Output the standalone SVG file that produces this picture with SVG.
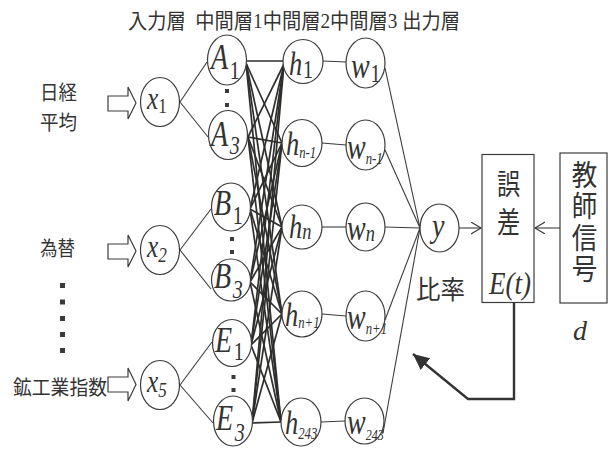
<svg xmlns="http://www.w3.org/2000/svg" width="608" height="452" viewBox="0 0 608 452">
  <style>
    .node { fill: #ffffff; stroke: #3c3c3c; stroke-width: 1.2; }
    .thin { stroke: #3c3c3c; stroke-width: 1.1; fill: none; }
    .mesh { stroke: #2e2e2c; stroke-width: 1.7; fill: none; }
    .blk { fill: #ffffff; stroke: #3c3c3c; stroke-width: 1.2; }
    .dot { fill: #3a3a36; }
    .jp { font-family: "Noto Sans CJK JP", "Noto Sans CJK SC", sans-serif; fill: #333333; }
    .vert { writing-mode: vertical-rl; text-orientation: upright; }
    .hd { font-family: "Liberation Serif", "Noto Sans CJK JP", serif; font-size: 21px; fill: #333333; white-space: pre; }
    .v { font-family: "Liberation Serif", serif; font-style: italic; fill: #333333; }
    .up { font-style: normal; }
  </style>
  <defs>
    <marker id="open" markerUnits="userSpaceOnUse" markerWidth="14" markerHeight="14" refX="10" refY="6" orient="auto">
      <path d="M0,0 L10,6 L0,12" fill="none" stroke="#3c3c3c" stroke-width="1.2"/>
    </marker>
    <marker id="solid" markerUnits="userSpaceOnUse" markerWidth="20" markerHeight="18" refX="16" refY="7.5" orient="auto">
      <path d="M0,0 L16,7.5 L0,15 z" fill="#333333"/>
    </marker>
  </defs>

  <!-- layer headings -->
  <g id="headings">
    <text class="hd" x="128" y="28" textLength="332" lengthAdjust="spacingAndGlyphs" xml:space="preserve">入力層  中間層1中間層2中間層3 出力層</text>
  </g>

  <!-- input names -->
  <g id="inputs">
    <text class="jp" font-size="20" x="40" y="100" textLength="37" lengthAdjust="spacingAndGlyphs">日経</text>
    <text class="jp" font-size="20" x="40" y="130" textLength="37" lengthAdjust="spacingAndGlyphs">平均</text>
    <text class="jp" font-size="20" x="40" y="256" textLength="35" lengthAdjust="spacingAndGlyphs">為替</text>
    <text class="jp" font-size="20" x="13" y="395" textLength="94" lengthAdjust="spacingAndGlyphs">鉱工業指数</text>
    <rect class="dot" x="60" y="283" width="5" height="5"/>
    <rect class="dot" x="60" y="299.5" width="5" height="5"/>
    <rect class="dot" x="60" y="316" width="5" height="5"/>
    <rect class="dot" x="60" y="332" width="5" height="5"/>
    <rect class="dot" x="60" y="348" width="5" height="5"/>
    <polygon class="blk" points="108,96 128,96 128,87 136,103 128,119 128,111 108,111"/>
    <polygon class="blk" points="108,244 128,244 128,235 136,251 128,267 128,259 108,259"/>
    <polygon class="blk" points="108,377 128,377 128,368 136,384.5 128,401 128,392 108,392"/>
  </g>

  <!-- connectors -->
  <g id="connectors">
    <!-- inputs to first hidden layer -->
    <line class="thin" x1="180" y1="102" x2="207" y2="62"/>
    <line class="thin" x1="180" y1="102" x2="208" y2="137"/>
    <line class="thin" x1="180" y1="250" x2="211" y2="209"/>
    <line class="thin" x1="180" y1="250" x2="211" y2="289"/>
    <line class="thin" x1="180" y1="385" x2="212" y2="342"/>
    <line class="thin" x1="180" y1="385" x2="213" y2="423"/>

    <!-- first hidden layer to second hidden layer (fully connected) -->
    <g class="mesh">
      <line x1="247" y1="61" x2="283" y2="61"/>
      <line x1="246" y1="63" x2="282" y2="143"/>
      <line x1="246" y1="63" x2="282" y2="227"/>
      <line x1="246" y1="63" x2="282" y2="314"/>
      <line x1="246" y1="63" x2="281" y2="422"/>
      <line x1="248" y1="137" x2="284" y2="64"/>
      <line x1="248" y1="137" x2="282" y2="143"/>
      <line x1="248" y1="137" x2="282" y2="227"/>
      <line x1="248" y1="137" x2="282" y2="314"/>
      <line x1="248" y1="137" x2="281" y2="422"/>
      <line x1="250" y1="209" x2="284" y2="64"/>
      <line x1="250" y1="209" x2="282" y2="143"/>
      <line x1="250" y1="209" x2="282" y2="227"/>
      <line x1="250" y1="209" x2="282" y2="314"/>
      <line x1="250" y1="209" x2="281" y2="422"/>
      <line x1="250" y1="282" x2="284" y2="64"/>
      <line x1="250" y1="282" x2="282" y2="143"/>
      <line x1="250" y1="282" x2="282" y2="227"/>
      <line x1="250" y1="282" x2="282" y2="314"/>
      <line x1="250" y1="282" x2="281" y2="422"/>
      <line x1="251" y1="345" x2="284" y2="64"/>
      <line x1="251" y1="345" x2="282" y2="143"/>
      <line x1="251" y1="345" x2="282" y2="227"/>
      <line x1="251" y1="345" x2="282" y2="314"/>
      <line x1="251" y1="345" x2="281" y2="422"/>
      <line x1="252" y1="423" x2="284" y2="64"/>
      <line x1="252" y1="423" x2="282" y2="143"/>
      <line x1="252" y1="423" x2="282" y2="227"/>
      <line x1="252" y1="423" x2="282" y2="314"/>
      <line x1="252" y1="423" x2="281" y2="422"/>
    </g>

    <!-- second hidden layer to third hidden layer -->
    <line class="thin" x1="323" y1="61" x2="346" y2="62"/>
    <line class="thin" x1="322" y1="143" x2="346" y2="145"/>
    <line class="thin" x1="322" y1="227" x2="346" y2="227"/>
    <line class="thin" x1="322" y1="314" x2="346" y2="316"/>
    <line class="thin" x1="321" y1="422" x2="345" y2="421"/>

    <!-- third hidden layer to output -->
    <line class="thin" x1="385" y1="68" x2="420" y2="228"/>
    <line class="thin" x1="385" y1="150" x2="420" y2="228"/>
    <line class="thin" x1="385" y1="227" x2="420" y2="228"/>
    <line class="thin" x1="385" y1="320" x2="420" y2="228"/>
    <line class="thin" x1="383" y1="433" x2="420" y2="228"/>

    <!-- output to error, teacher signal to error -->
    <line class="thin" x1="459" y1="228" x2="481" y2="228" marker-end="url(#open)"/>
    <line class="thin" x1="560" y1="228" x2="535" y2="228" marker-end="url(#open)"/>

    <!-- error feedback -->
    <polyline points="514,303 514,399 468,399 413,354" fill="none" stroke="#333333" stroke-width="2.4" stroke-linejoin="miter" marker-end="url(#solid)"/>
  </g>

  <!-- input layer -->
  <g id="x1">
    <ellipse class="node" cx="160" cy="102" rx="19.5" ry="24.5"/>
    <text class="v" font-size="31" transform="translate(147,109) scale(0.82,1)">x<tspan class="up" font-size="21" dy="4">1</tspan></text>
  </g>
  <g id="x2">
    <ellipse class="node" cx="160" cy="250" rx="19.5" ry="24.5"/>
    <text class="v" font-size="31" transform="translate(147,257) scale(0.82,1)">x<tspan font-size="21" dy="5">2</tspan></text>
  </g>
  <g id="x5">
    <ellipse class="node" cx="160" cy="385" rx="19.5" ry="24.5"/>
    <text class="v" font-size="31" transform="translate(147,392) scale(0.82,1)">x<tspan font-size="21" dy="5">5</tspan></text>
  </g>

  <!-- first hidden layer -->
  <g id="A1">
    <ellipse class="node" cx="227" cy="60" rx="19.5" ry="25"/>
    <text class="v" font-size="35" transform="translate(211,69) scale(0.8,1)">A<tspan class="up" font-size="25" dy="10" dx="2">1</tspan></text>
  </g>
  <g id="A3">
    <ellipse class="node" cx="228" cy="135" rx="19.5" ry="24.5"/>
    <text class="v" font-size="35" transform="translate(211,146) scale(0.8,1)">A<tspan font-size="25" dy="8" dx="2">3</tspan></text>
  </g>
  <g id="A-dots">
    <rect class="dot" x="225" y="89" width="4" height="4"/>
    <rect class="dot" x="225" y="103" width="4" height="4"/>
  </g>
  <g id="B1">
    <ellipse class="node" cx="231" cy="207" rx="19.5" ry="24"/>
    <text class="v" font-size="35" transform="translate(214,215) scale(0.8,1)">B<tspan class="up" font-size="25" dy="9" dx="2">1</tspan></text>
  </g>
  <g id="B3">
    <ellipse class="node" cx="231" cy="280" rx="19.5" ry="21"/>
    <text class="v" font-size="35" transform="translate(214,288) scale(0.8,1)">B<tspan font-size="25" dy="10" dx="2">3</tspan></text>
  </g>
  <g id="B-dots">
    <rect class="dot" x="230" y="237" width="4" height="4"/>
    <rect class="dot" x="230" y="250" width="4" height="4"/>
  </g>
  <g id="E1">
    <ellipse class="node" cx="232" cy="343" rx="19.5" ry="23.5"/>
    <text class="v" font-size="35" transform="translate(215,352) scale(0.8,1)">E<tspan class="up" font-size="25" dy="8" dx="2">1</tspan></text>
  </g>
  <g id="E3">
    <ellipse class="node" cx="233" cy="421" rx="19.5" ry="25"/>
    <text class="v" font-size="35" transform="translate(216,430) scale(0.8,1)">E<tspan font-size="25" dy="11" dx="2">3</tspan></text>
  </g>
  <g id="E-dots">
    <rect class="dot" x="231.5" y="375" width="4" height="4"/>
    <rect class="dot" x="231.5" y="388" width="4" height="4"/>
  </g>

  <!-- second hidden layer -->
  <g id="h1">
    <ellipse class="node" cx="303" cy="61.5" rx="20" ry="22"/>
    <text class="v" font-size="33" transform="translate(289,75) scale(0.8,1)">h<tspan class="up" font-size="25" dy="3" dx="1">1</tspan></text>
  </g>
  <g id="hn-1">
    <ellipse class="node" cx="302" cy="143" rx="20" ry="23.5"/>
    <text class="v" font-size="33" transform="translate(286,155) scale(0.8,1)">h<tspan font-size="16" dy="3">n-1</tspan></text>
  </g>
  <g id="hn">
    <ellipse class="node" cx="302" cy="227" rx="20" ry="22"/>
    <text class="v" font-size="33" transform="translate(289,238) scale(0.8,1)">h<tspan font-size="23" dy="1">n</tspan></text>
  </g>
  <g id="hn+1">
    <ellipse class="node" cx="302" cy="314" rx="20" ry="23"/>
    <text class="v" font-size="33" transform="translate(285,326) scale(0.8,1)">h<tspan font-size="16" dy="2">n+1</tspan></text>
  </g>
  <g id="h243">
    <ellipse class="node" cx="301" cy="422" rx="20" ry="24"/>
    <text class="v" font-size="33" transform="translate(285,434) scale(0.8,1)">h<tspan font-size="16" dy="5">243</tspan></text>
  </g>

  <!-- third hidden layer -->
  <g id="w1">
    <ellipse class="node" cx="365.5" cy="63" rx="19.5" ry="25"/>
    <text class="v" font-size="35" transform="translate(351,78) scale(0.8,1)">w<tspan class="up" font-size="25" dy="4" dx="1">1</tspan></text>
  </g>
  <g id="wn-1">
    <ellipse class="node" cx="365.5" cy="145" rx="19.5" ry="25"/>
    <text class="v" font-size="35" transform="translate(347,159) scale(0.8,1)">w<tspan font-size="16" dy="5">n-1</tspan></text>
  </g>
  <g id="wn">
    <ellipse class="node" cx="365.5" cy="227" rx="19.5" ry="24"/>
    <text class="v" font-size="35" transform="translate(347,240) scale(0.8,1)">w<tspan font-size="23" dy="1">n</tspan></text>
  </g>
  <g id="wn+1">
    <ellipse class="node" cx="365.5" cy="316" rx="19.5" ry="25"/>
    <text class="v" font-size="35" transform="translate(347,329) scale(0.8,1)">w<tspan font-size="16" dy="5">n+1</tspan></text>
  </g>
  <g id="w243">
    <ellipse class="node" cx="364.5" cy="421" rx="19.5" ry="23"/>
    <text class="v" font-size="35" transform="translate(347,434) scale(0.8,1)">w<tspan font-size="15" dy="6">243</tspan></text>
  </g>

  <!-- output layer -->
  <g id="y">
    <ellipse class="node" cx="439.5" cy="228" rx="19.5" ry="24"/>
    <text class="v" font-size="33" transform="translate(432,237) scale(0.85,1)">y</text>
  </g>
  <g id="ratio">
    <text class="jp" font-size="26" x="416" y="299" textLength="49" lengthAdjust="spacingAndGlyphs">比率</text>
  </g>

  <!-- error block -->
  <g id="error">
    <rect class="node" x="482" y="154.5" width="52" height="148"/>
    <text class="jp" font-size="29" text-anchor="middle" transform="translate(508.5,0) scale(0.8,1)"><tspan x="0" y="195">誤</tspan><tspan x="0" y="233">差</tspan></text>
    <text class="v" font-size="31" x="489" y="294" textLength="42" lengthAdjust="spacingAndGlyphs">E(t)</text>
  </g>

  <!-- teacher signal block, set vertically -->
  <g id="teacher">
    <rect class="node" x="560" y="153" width="47" height="150"/>
    <text class="jp vert" font-size="29" letter-spacing="2.6" transform="translate(584.5,0) scale(0.88,1)" x="0" y="160">教師信号</text>
    <text class="v" font-size="28" x="573" y="340">d</text>
  </g>
</svg>
